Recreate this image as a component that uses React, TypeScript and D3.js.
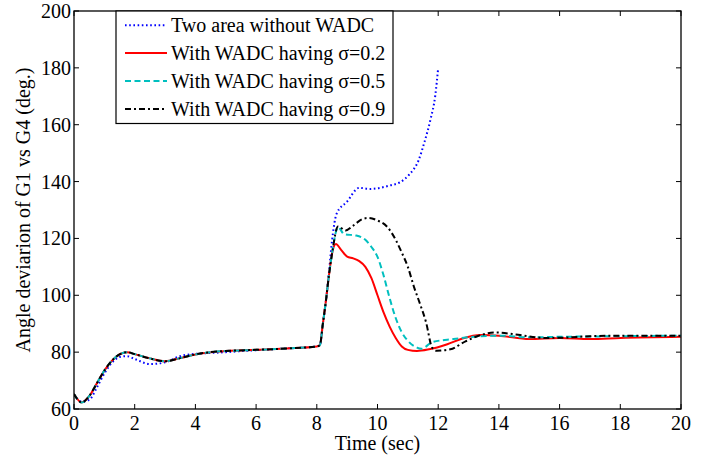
import React from 'react';
import * as d3 from 'd3';

type Pt = [number, number];

// pre-fault response shared by the three WADC cases (time s, angle deg)
const preFault: Pt[] = [
  [0, 65.3], [0.25, 62.3], [0.5, 64.5], [0.75, 69], [1.0, 73.5], [1.25, 77],
  [1.5, 79.2], [1.75, 80], [2.0, 79.3], [2.5, 77.8], [3.0, 76.8], [3.5, 77.9],
  [4.0, 79.2], [4.5, 80.0], [5.0, 80.4], [6.0, 80.8], [7.0, 81.3], [8.0, 82],
  [8.1, 82.4], [8.2, 90], [8.3, 98], [8.4, 107], [8.5, 114.5],
];

const noWadc: Pt[] = [
  [0, 65], [0.25, 62.6], [0.5, 63.2], [0.75, 67.5], [1.0, 72.5], [1.25, 76.3],
  [1.5, 78.3], [1.75, 78.6], [2.0, 77.6], [2.5, 75.8], [3.0, 76.4], [3.5, 78.6],
  [4.0, 79.4], [4.5, 79.7], [5.0, 80.0], [6.0, 80.7], [7.0, 81.3], [8.0, 82],
  [8.1, 82.4], [8.2, 90], [8.3, 98], [8.4, 108], [8.5, 119], [8.65, 128.6],
  [9.0, 133], [9.4, 137.8], [9.75, 137.4], [10.4, 138.6], [10.75, 139.8],
  [11.05, 142.5], [11.35, 147.4], [11.55, 154], [11.75, 162], [11.9, 170], [12.0, 180],
];

const sigma02: Pt[] = [
  ...preFault,
  [8.63, 118], [8.8, 116], [9.0, 113.6], [9.2, 113], [9.4, 112], [9.6, 110],
  [9.8, 106], [10.0, 100], [10.2, 94], [10.4, 89], [10.6, 85], [10.8, 82],
  [11.0, 80.8], [11.3, 80.4], [11.7, 81], [12.3, 82.8], [12.8, 84.8], [13.4, 86],
  [14.0, 85.8], [15.0, 84.6], [16.0, 85.0], [17.0, 84.6], [18.0, 85.0], [20.0, 85.4],
];

const sigma05: Pt[] = [
  ...preFault,
  [8.7, 124], [8.9, 121.5], [9.3, 121], [9.6, 119.5], [9.8, 117], [10.0, 113.5],
  [10.2, 107], [10.4, 99], [10.6, 92], [10.8, 87], [11.0, 84], [11.3, 81.6],
  [11.45, 81.2], [11.8, 83.5], [12.5, 84.6], [13.4, 85.6], [14.0, 85.8], [15.0, 85.2],
  [16.0, 85.4], [18.0, 85.6], [20.0, 85.8],
];

const sigma09: Pt[] = [
  ...preFault,
  [8.7, 124.2], [8.95, 122.8], [9.2, 124.5], [9.5, 126.8], [9.7, 127.2], [10.0, 126.3],
  [10.3, 124.3], [10.6, 119.5], [10.8, 115], [11.0, 110], [11.2, 103], [11.4, 97],
  [11.6, 90.5], [11.8, 81.6], [11.95, 80.5], [12.4, 81], [12.9, 83.8], [13.4, 86],
  [13.9, 86.9], [14.7, 86], [15.5, 85], [16.1, 85.1], [17.0, 85.6], [18.0, 85.8], [20.0, 85.8],
];

const legendLabels = [
  'Two area without WADC',
  'With WADC having \u03c3=0.2',
  'With WADC having \u03c3=0.5',
  'With WADC having \u03c3=0.9',
];

const xTicks = [0, 2, 4, 6, 8, 10, 12, 14, 16, 18, 20];
const yTicks = [60, 80, 100, 120, 140, 160, 180, 200];

const series = [
  { data: noWadc, color: '#0000ff', dash: '1.6,2.6' },
  { data: sigma02, color: '#ff0000', dash: 'none' },
  { data: sigma05, color: '#00bfbf', dash: '6,3.5' },
  { data: sigma09, color: '#000000', dash: '6,3,2,3' },
];

export default function App() {
  const width = 715;
  const height = 455;
  const left = 74, right = 681, top = 11, bottom = 409;

  const x = d3.scaleLinear().domain([0, 20]).range([left, right]);
  const y = d3.scaleLinear().domain([60, 200]).range([bottom, top]);

  const line = d3.line<Pt>()
    .x(d => x(d[0]))
    .y(d => y(d[1]))
    .curve(d3.curveMonotoneX);

  const font = '"Liberation Serif", "Times New Roman", serif';
  const fs = 20;

  // legend box
  const lg = { x: 116, y: 11, w: 277, h: 112.5 };
  const rowBase = [31.7, 59.5, 87.5, 115.5];

  return (
    <svg width={width} height={height} viewBox={`0 0 ${width} ${height}`}
      style={{ position: 'absolute', left: 0, top: 0, background: '#fff' }}
      fontFamily={font}>
      <rect x={0} y={0} width={width} height={height} fill="#fff" />

      <clipPath id="plot">
        <rect x={left} y={top} width={right - left} height={bottom - top} />
      </clipPath>

      {/* curves */}
      <g clipPath="url(#plot)">
        {series.map((s, i) => (
          <path key={i} d={line(s.data) ?? ''} fill="none" stroke={s.color}
            strokeWidth={2} strokeDasharray={s.dash} />
        ))}
      </g>

      {/* ticks, inward on all sides */}
      <g stroke="#000" strokeWidth={1}>
        {xTicks.map(t => (
          <g key={'x' + t}>
            <line x1={x(t)} x2={x(t)} y1={bottom} y2={bottom - 5} />
            <line x1={x(t)} x2={x(t)} y1={top} y2={top + 5} />
          </g>
        ))}
        {yTicks.map(t => (
          <g key={'y' + t}>
            <line x1={left} x2={left + 5} y1={y(t)} y2={y(t)} />
            <line x1={right} x2={right - 5} y1={y(t)} y2={y(t)} />
          </g>
        ))}
      </g>

      {/* axes box */}
      <rect x={left} y={top} width={right - left} height={bottom - top}
        fill="none" stroke="#000" strokeWidth={1.3} />

      {/* tick labels */}
      <g fontSize={fs} fill="#000">
        {xTicks.map(t => (
          <text key={'xl' + t} x={x(t)} y={bottom + 21} textAnchor="middle">{t}</text>
        ))}
        {yTicks.map(t => (
          <text key={'yl' + t} x={left - 3} y={y(t) + 7} textAnchor="end">{t}</text>
        ))}
      </g>

      {/* axis titles */}
      <text x={(left + right) / 2} y={450} fontSize={fs} textAnchor="middle">Time (sec)</text>
      <text transform={`translate(30,${(top + bottom) / 2}) rotate(-90)`} fontSize={fs}
        textAnchor="middle">Angle deviarion of G1 vs G4 (deg.)</text>

      {/* legend */}
      <rect x={lg.x} y={lg.y} width={lg.w} height={lg.h} fill="#fff" stroke="#000" strokeWidth={1.2} />
      {legendLabels.map((label, i) => (
        <g key={label}>
          <line x1={125} x2={167} y1={rowBase[i] - 6.5} y2={rowBase[i] - 6.5}
            stroke={series[i].color} strokeWidth={2} strokeDasharray={series[i].dash} />
          <text x={171} y={rowBase[i]} fontSize={fs}>{label}</text>
        </g>
      ))}
    </svg>
  );
}
